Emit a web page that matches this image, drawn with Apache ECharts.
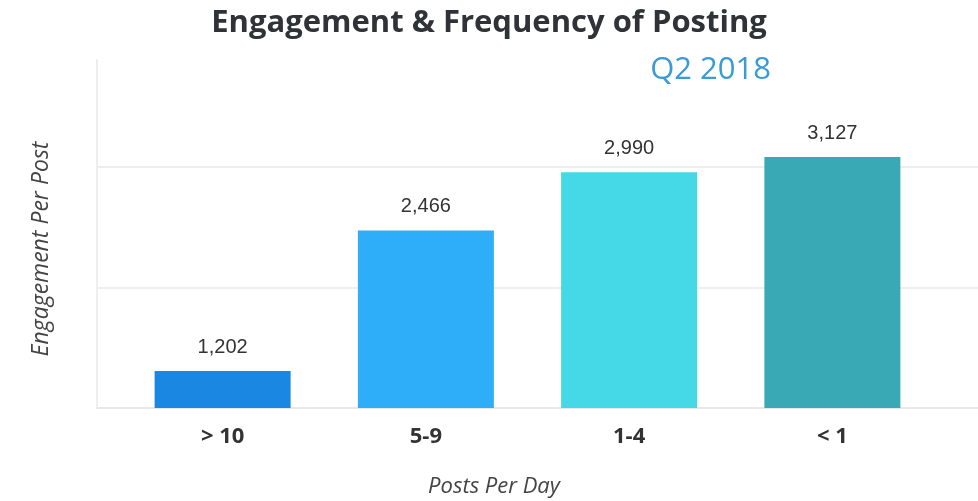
<!DOCTYPE html>
<html>
<head>
<meta charset="utf-8">
<script src="https://cdn.jsdelivr.net/npm/echarts@6/dist/echarts.min.js"></script>
<style>
    html, body { margin: 0; padding: 0; background: #fff; }
    #chart { width: 978px; height: 501px; }
</style>
</head>
<body>
<div id="chart"></div>
<script>
// posts per day buckets
var categories = ['> 10', '5-9', '1-4', '< 1'];
var engagement = [1202, 2466, 2990, 3127];
var barColors = ['#1a87e2', '#2eaef9', '#45d9e7', '#38a9b5'];

var chart = echarts.init(document.getElementById('chart'));

chart.setOption({
    backgroundColor: '#ffffff',
    animation: false,
    title: [{
        text: 'Engagement & Frequency of Posting',
        left: 'center',
        top: 3,
        textStyle: {
            fontFamily: 'Open Sans',
            fontWeight: 'bold',
            fontSize: 31,
            color: '#2f3237'
        }
    }, {
        text: 'Q2 2018',
        right: 202,
        top: 50,
        textStyle: {
            fontFamily: 'Open Sans',
            fontWeight: 'normal',
            fontSize: 31,
            color: '#3b9ad8'
        }
    }],
    graphic: [{
        type: 'text',
        x: 41,
        y: 249,
        rotation: Math.PI / 2,
        style: {
            text: 'Engagement Per Post',
            fontFamily: 'Open Sans',
            fontStyle: 'italic',
            fontSize: 23,
            fill: '#444',
            textAlign: 'center',
            textVerticalAlign: 'middle'
        }
    }, {
        type: 'text',
        x: 494,
        y: 487,
        style: {
            text: 'Posts Per Day',
            fontFamily: 'Open Sans',
            fontStyle: 'italic',
            fontSize: 22,
            fill: '#444',
            textAlign: 'center',
            textVerticalAlign: 'middle'
        }
    }],
    grid: [
        // bars
        { left: 121, right: 44, top: 60, bottom: 93 },
        // frame + gridlines
        { left: 97, right: 0, top: 60, bottom: 93 }
    ],
    xAxis: [{
        type: 'category',
        gridIndex: 0,
        data: categories,
        axisLine: { show: false },
        axisTick: { show: false },
        axisLabel: {
            margin: 18,
            fontFamily: 'Open Sans',
            fontWeight: 'bold',
            fontSize: 22,
            color: '#333'
        }
    }, {
        type: 'value',
        gridIndex: 1,
        min: 0,
        max: 1,
        axisLine: { show: true, lineStyle: { color: '#e8e8e8', width: 2 } },
        axisTick: { show: false },
        axisLabel: { show: false },
        splitLine: { show: false }
    }],
    yAxis: [{
        type: 'value',
        gridIndex: 0,
        min: 870,
        max: 4000,
        axisLine: { show: false },
        axisTick: { show: false },
        axisLabel: { show: false },
        splitLine: { show: false }
    }, {
        type: 'value',
        gridIndex: 1,
        min: 0,
        max: 3130,
        interval: 1085,
        axisLine: { show: true, lineStyle: { color: '#eeeeee', width: 2 } },
        axisTick: { show: false },
        axisLabel: { show: false },
        splitLine: {
            show: true,
            showMaxLine: false,
            lineStyle: { color: '#eeeeee', width: 2 }
        }
    }],
    series: [{
        type: 'bar',
        xAxisIndex: 0,
        yAxisIndex: 0,
        barWidth: 136,
        data: engagement.map(function (v, i) {
            return { value: v, itemStyle: { color: barColors[i] } };
        }),
        label: {
            show: true,
            position: 'top',
            distance: 14,
            fontFamily: 'Liberation Sans',
            fontSize: 20,
            color: '#333',
            formatter: function (p) {
                return p.value.toLocaleString('en-US');
            }
        }
    }]
});
</script>
</body>
</html>
